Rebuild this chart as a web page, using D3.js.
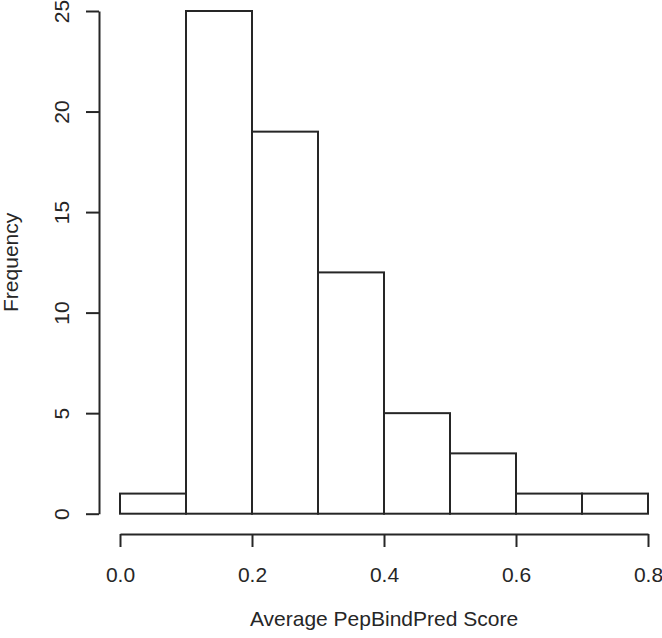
<!DOCTYPE html>
<html>
<head>
<meta charset="utf-8">
<script src="https://cdn.jsdelivr.net/npm/d3@7"></script>
<style>
  body { margin: 0; background: #fff; }
  svg { display: block; font-family: "Liberation Sans", Arial, sans-serif; }
</style>
</head>
<body>
<svg id="chart" width="662" height="638"></svg>
<script>
// histogram bins (left edge, right edge) and counts
let binStarts = [0.0, 0.1, 0.2, 0.3, 0.4, 0.5, 0.6, 0.7]
let binEnds   = [0.1, 0.2, 0.3, 0.4, 0.5, 0.6, 0.7, 0.8]
let counts    = [1, 25, 19, 12, 5, 3, 1, 1]
let xTicks = [0.0, 0.2, 0.4, 0.6, 0.8]
let yTicks = [0, 5, 10, 15, 20, 25]

let ink = "#262626"
let fontSize = 21

let chart = d3.select("#chart")

let x = d3.scaleLinear().domain([0, 0.8]).range([120, 648])
let y = d3.scaleLinear().domain([0, 25]).range([513.7, 11])

let bins = counts.map((c, i) => ({x0: binStarts[i], x1: binEnds[i], n: c}))

chart.append("g").selectAll("rect")
  .data(bins)
  .enter().append("rect")
    .attr("x", d => x(d.x0))
    .attr("y", d => y(d.n))
    .attr("width", d => x(d.x1) - x(d.x0))
    .attr("height", d => y(0) - y(d.n))
    .attr("fill", "white")
    .attr("stroke", ink)
    .attr("stroke-width", 2)

// x axis, R style: line only between first and last tick
let xAxis = chart.append("g")
  .attr("transform", "translate(0,534)")
  .call(d3.axisBottom(x).tickValues(xTicks).tickFormat(d3.format(".1f"))
    .tickSize(13).tickSizeOuter(0).tickPadding(20))
xAxis.select(".domain").attr("stroke", ink).attr("stroke-width", 2)
xAxis.selectAll(".tick line").attr("stroke", ink).attr("stroke-width", 2)
xAxis.selectAll(".tick text")
  .attr("fill", ink)
  .style("font-size", fontSize + "px")
  .style("font-family", "Liberation Sans, Arial, sans-serif")

let yAxis = chart.append("g")
  .attr("transform", "translate(99,0)")
  .call(d3.axisLeft(y).tickValues(yTicks).tickSize(13).tickSizeOuter(0))
yAxis.select(".domain").attr("stroke", ink).attr("stroke-width", 2)
yAxis.selectAll(".tick line").attr("stroke", ink).attr("stroke-width", 2)
yAxis.selectAll(".tick text")
  .attr("x", null).attr("dy", null)
  .attr("transform", "translate(-30,0) rotate(-90)")
  .attr("text-anchor", "middle")
  .attr("fill", ink)
  .style("font-size", fontSize + "px")
  .style("font-family", "Liberation Sans, Arial, sans-serif")

chart.append("text")
  .attr("x", (x(0) + x(0.8)) / 2)
  .attr("y", 626)
  .attr("text-anchor", "middle")
  .attr("fill", ink)
  .style("font-size", fontSize + "px")
  .text("Average PepBindPred Score")

chart.append("text")
  .attr("transform", `translate(18,${(y(0) + y(25)) / 2}) rotate(-90)`)
  .attr("text-anchor", "middle")
  .attr("fill", ink)
  .style("font-size", fontSize + "px")
  .text("Frequency")
</script>
</body>
</html>
